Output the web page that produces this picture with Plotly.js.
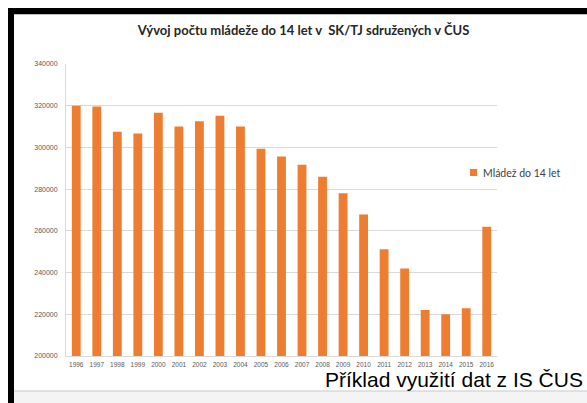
<!DOCTYPE html>
<html>
<head>
<meta charset="utf-8">
<script src="https://cdn.plot.ly/plotly-3.0.1.min.js"></script>
<style>
html,body{margin:0;padding:0;background:#ffffff;}
#chart{width:587px;height:403px;}
</style>
</head>
<body>
<div id="chart"></div>
<script>
const years = ["1996","1997","1998","1999","2000","2001","2002","2003","2004","2005","2006","2007","2008","2009","2010","2011","2012","2013","2014","2015","2016"];
const youthCounts = [320000,319600,307500,306700,316600,310000,312500,315200,310000,299400,295700,291700,285900,278000,267800,251200,242000,222000,220000,222900,262000];
const seriesName = "Mládež do 14 let";
const chartTitle = "Vývoj počtu mládeže do 14 let v  SK/TJ sdružených v ČUS";
const footerText = "Příklad využití dat z IS ČUS";
const yTicks = [200000,220000,240000,260000,280000,300000,320000,340000];

const W = 587, H = 403;
const M = {l:66, r:90, t:64, b:47};
const pw = W - M.l - M.r, ph = H - M.t - M.b;
const px = x => (x - M.l) / pw;
const py = y => 1 - (y - M.t) / ph;

const orange = "#ED7D31";

const shapes = [
  {type:"rect", xref:"paper", yref:"paper", x0:px(8), x1:px(587), y0:py(14), y1:py(8), fillcolor:"#000000", line:{width:0}, layer:"above"},
  {type:"rect", xref:"paper", yref:"paper", x0:px(8), x1:px(14), y0:py(403), y1:py(8), fillcolor:"#000000", line:{width:0}, layer:"above"},
  {type:"line", xref:"paper", yref:"paper", x0:px(14), x1:px(587), y0:py(14.5), y1:py(14.5), line:{color:"#bdbdbd", width:1}},
  {type:"rect", xref:"paper", yref:"paper", x0:px(14), x1:px(587), y0:py(403), y1:py(391), fillcolor:"#f4f4f4", line:{width:0}, layer:"below"},
  {type:"line", xref:"paper", yref:"paper", x0:px(14), x1:px(587), y0:py(391), y1:py(391), line:{color:"#c8c8c8", width:1}},
  {type:"rect", xref:"paper", yref:"paper", x0:px(470), x1:px(477), y0:py(176), y1:py(169), fillcolor:orange, line:{width:0}}
];

const annotations = [
  {xref:"paper", yref:"paper", x:px(481), y:py(172.5), xanchor:"left", yanchor:"middle", showarrow:false,
   text:seriesName, font:{family:"Lato, 'Open Sans', sans-serif", size:10.5, color:"#404040"}},
  {xref:"paper", yref:"paper", x:px(584), y:py(392), xanchor:"right", yanchor:"bottom", showarrow:false,
   borderpad:0, text:footerText, font:{family:"'Liberation Sans', Arial, sans-serif", size:21, color:"#000000"}}
];

const trace = {
  type:"bar", x:years, y:youthCounts, name:seriesName,
  marker:{color:orange}, showlegend:false
};

const layout = {
  width:W, height:H,
  margin:{l:M.l, r:M.r, t:M.t, b:M.b, pad:0},
  paper_bgcolor:"#ffffff", plot_bgcolor:"#ffffff",
  bargap:0.57,
  title:{text:"<b>"+chartTitle+"</b>", x:(137+470)/2/W, xanchor:"center", y:1-30/H, yanchor:"middle",
         font:{family:"Lato, 'Open Sans', sans-serif", size:13, color:"#262626"}},
  xaxis:{type:"category", tickfont:{family:"'Liberation Sans', Arial, sans-serif", size:6.5, color:"#595959"},
         showline:true, linecolor:"#d9d9d9", linewidth:1, ticks:"", showgrid:false, fixedrange:true, automargin:false,
         ticklabelstandoff:2},
  yaxis:{range:[200000,340000], tickvals:yTicks, ticktext:yTicks.map(String),
         tickfont:{family:"'Liberation Sans', Arial, sans-serif", size:7, color:"#595959"},
         showgrid:true, gridcolor:"#d9d9d9", gridwidth:1, showline:true, linecolor:"#d9d9d9",
         zeroline:false, ticks:"", ticklabelstandoff:6, fixedrange:true, automargin:false},
  shapes:shapes, annotations:annotations
};

Plotly.newPlot("chart", [trace], layout, {displayModeBar:false, staticPlot:true});
</script>
</body>
</html>
